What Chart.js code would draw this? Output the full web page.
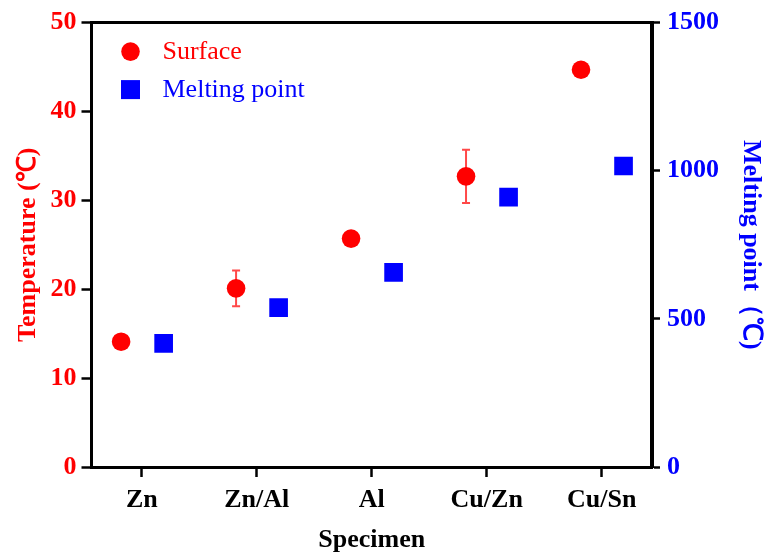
<!DOCTYPE html>
<html>
<head>
<meta charset="utf-8">
<script src="https://cdn.jsdelivr.net/npm/chart.js@4.4.1/dist/chart.umd.min.js"></script>
<style>
html,body{margin:0;padding:0;background:#fff;}
#wrap{width:765px;height:553px;position:relative;}
</style>
</head>
<body>
<div id="wrap"><canvas id="c"></canvas></div>
<script>
// ---- data ----
const categories = ['Zn', 'Zn/Al', 'Al', 'Cu/Zn', 'Cu/Sn'];
const surfaceTemp = [14.1, 20.1, 25.7, 32.7, 44.7];
const surfaceErr = [0.6, 2.0, 0.5, 3.0, 0.5];
const meltingPoint = [417, 538, 657, 911, 1016];
const seriesLabels = ['Surface', 'Melting point'];
const leftRange = [0, 50];
const rightRange = [0, 1500];
const leftStep = 10;
const rightStep = 500;

// ---- styling ----
const RED = '#ff0000';
const BLUE = '#0000ff';
const FONT = '"Liberation Serif", "Times New Roman", serif';
const surfaceOffset = -0.18;
const meltOffset = 0.19;

const errorBars = {
  id: 'errorBars',
  beforeDatasetsDraw(chart) {
    const ctx = chart.ctx, xs = chart.scales.x, ys = chart.scales.y;
    ctx.save();
    ctx.strokeStyle = 'rgba(255,40,40,0.85)';
    ctx.lineWidth = 2;
    surfaceTemp.forEach((v, i) => {
      const x = xs.getPixelForValue(i + surfaceOffset);
      const y1 = ys.getPixelForValue(v + surfaceErr[i]);
      const y2 = ys.getPixelForValue(v - surfaceErr[i]);
      ctx.beginPath();
      ctx.moveTo(x, y1); ctx.lineTo(x, y2);
      ctx.moveTo(x - 4, y1); ctx.lineTo(x + 4, y1);
      ctx.moveTo(x - 4, y2); ctx.lineTo(x + 4, y2);
      ctx.stroke();
    });
    ctx.restore();
  }
};

const frameAndLegend = {
  id: 'frameAndLegend',
  afterDraw(chart) {
    const ctx = chart.ctx, a = chart.chartArea;
    ctx.save();
    // top frame line
    ctx.strokeStyle = '#000';
    ctx.lineWidth = 3;
    ctx.beginPath();
    ctx.moveTo(a.left - 1.5, a.top);
    ctx.lineTo(a.right + 1.5, a.top);
    ctx.stroke();
    // legend
    const ds = chart.data.datasets;
    const lx = a.left + 39, tx = a.left + 71;
    const rows = [a.top + 29, a.top + 67];
    ctx.font = '26px ' + FONT;
    ctx.textBaseline = 'middle';
    ctx.textAlign = 'left';
    ctx.fillStyle = ds[0].backgroundColor;
    ctx.beginPath();
    ctx.arc(lx, rows[0], 9.3, 0, Math.PI * 2);
    ctx.fill();
    ctx.fillText(ds[0].label, tx, rows[0] + 1);
    ctx.fillStyle = ds[1].backgroundColor;
    ctx.fillRect(lx - 9.5, rows[1] - 9.5, 19, 19);
    ctx.fillText(ds[1].label, tx, rows[1] + 1);
    ctx.restore();
  }
};

const tickFont = { family: FONT, size: 26, weight: 'bold' };
const titleFont = { family: FONT, size: 26, weight: 'bold', lineHeight: 1.0 };

new Chart(document.getElementById('c'), {
  type: 'scatter',
  data: {
    datasets: [
      {
        label: seriesLabels[0],
        data: surfaceTemp.map((v, i) => ({ x: i + surfaceOffset, y: v })),
        yAxisID: 'y',
        backgroundColor: RED,
        borderColor: RED,
        borderWidth: 0,
        pointStyle: 'circle',
        pointRadius: 9.3,
        pointHoverRadius: 9.3
      },
      {
        label: seriesLabels[1],
        data: meltingPoint.map((v, i) => ({ x: i + meltOffset, y: v })),
        yAxisID: 'y2',
        backgroundColor: BLUE,
        borderColor: BLUE,
        borderWidth: 0,
        pointStyle: 'rect',
        pointRadius: 13.2,
        pointHoverRadius: 13.2
      }
    ]
  },
  options: {
    responsive: true,
    maintainAspectRatio: false,
    animation: false,
    devicePixelRatio: 1,
    layout: { padding: { top: 21, left: 0, right: 0, bottom: 0 } },
    plugins: {
      legend: { display: false },
      tooltip: { enabled: false }
    },
    scales: {
      x: {
        type: 'linear',
        position: 'bottom',
        min: -0.4375,
        max: 4.4375,
        afterBuildTicks: s => { s.ticks = categories.map((c, i) => ({ value: i })); },
        afterFit: s => { s.height = 86; },
        ticks: {
          autoSkip: false,
          maxRotation: 0,
          padding: 8,
          color: '#000',
          font: tickFont,
          callback: v => categories[v]
        },
        grid: { drawOnChartArea: false, drawTicks: true, tickLength: 10, tickWidth: 2.5, tickColor: '#000' },
        border: { display: true, color: '#000', width: 3 },
        title: { display: true, text: 'Specimen', color: '#000', font: titleFont, padding: { top: 0, bottom: 0 } }
      },
      y: {
        type: 'linear',
        position: 'left',
        min: leftRange[0],
        max: leftRange[1],
        afterFit: s => { s.width = 91.5; },
        ticks: { stepSize: leftStep, padding: 5, color: RED, font: tickFont, callback: v => String(v) },
        grid: { drawOnChartArea: false, drawTicks: true, tickLength: 10, tickWidth: 2.5, tickColor: '#000' },
        border: { display: true, color: '#000', width: 3 },
        title: { display: true, text: 'Temperature (℃)', color: RED, font: titleFont, padding: { top: 15, bottom: 0 } }
      },
      y2: {
        type: 'linear',
        position: 'right',
        min: rightRange[0],
        max: rightRange[1],
        afterFit: s => { s.width = 113; },
        ticks: { stepSize: rightStep, padding: 7, color: BLUE, font: tickFont, callback: v => String(v) },
        grid: { drawOnChartArea: false, drawTicks: true, tickLength: 8, tickWidth: 2.5, tickColor: '#000' },
        border: { display: true, color: '#000', width: 4 },
        title: { display: true, text: 'Melting point（℃)', color: BLUE, font: titleFont, padding: { top: 1, bottom: 0 } }
      }
    }
  },
  plugins: [errorBars, frameAndLegend]
});
</script>
</body>
</html>
